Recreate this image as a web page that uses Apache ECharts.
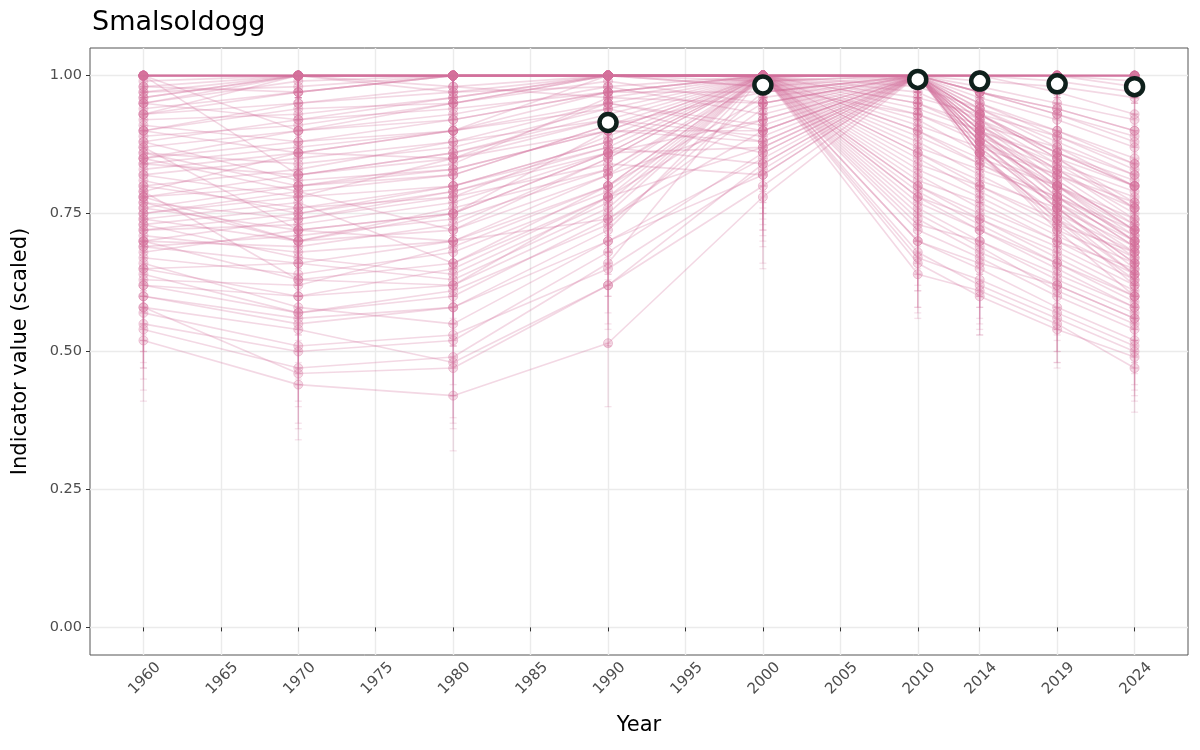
<!DOCTYPE html>
<html>
<head>
<meta charset="utf-8">
<script src="https://cdn.jsdelivr.net/npm/echarts@6/dist/echarts.min.js"></script>
<style>html,body{margin:0;padding:0;background:#fff}#c{width:1200px;height:750px}</style>
</head>
<body>
<div id="c"></div>
<script>
const years = [1960, 1970, 1980, 1990, 2000, 2010, 2014, 2019, 2024];
const xTickValues = [1960, 1965, 1970, 1975, 1980, 1985, 1990, 1995, 2000, 2005, 2010, 2014, 2019, 2024];
const yTickValues = [0, 0.25, 0.5, 0.75, 1];

// Scaled indicator value of each sample line, one array per year
const y1960 = [1,1,1,1,0.98,1,0.97,1,0.95,1, 0.93,0.87,0.79,0.72,0.65,0.84,0.78,0.7,0.6,0.9, 0.75,0.68,0.54,0.52,0.85,0.8,0.73,0.7,0.93,0.95, 0.78,0.62,0.66,0.57,0.88,0.83,1,1,0.79,0.87, 0.93,0.96,0.71,0.75,0.9,0.69,0.82,0.76,0.64,0.58, 0.98,0.92,0.86,0.74,0.89,0.81,0.77,0.63,0.94,0.85,
  0.91,0.76,0.7,0.86,0.99,0.67,0.8,0.62,0.72,0.84, 0.9,0.78,0.55,0.6,0.97,1,1,1,1,0.96, 0.73,0.88,0.65,0.69,0.82,0.74,0.95,0.58,0.85,0.77];
const y1970 = [1,1,1,1,1,1,1,1,0.99,1, 0.97,0.9,0.86,0.75,0.66,0.82,0.7,0.63,0.55,0.95, 0.78,0.72,0.47,0.44,0.88,0.83,0.76,0.74,0.95,1, 0.8,0.6,0.58,0.51,0.92,0.86,0.9,0.82,0.63,0.72, 1,1,0.68,0.79,0.86,0.66,0.78,0.72,0.57,0.54, 0.97,0.93,0.8,0.77,0.91,0.75,0.7,0.62,0.97,0.9,
  0.88,0.8,0.69,0.84,1,0.64,0.76,0.57,0.73,0.87, 0.94,0.82,0.5,0.56,0.98,1,1,1,1,1, 0.67,0.81,0.6,0.71,0.85,0.7,0.92,0.46,0.79,0.74];
const y1980 = [1,1,1,1,1,1,1,1,1,1, 1,0.95,0.9,0.8,0.7,0.85,0.72,0.62,0.58,0.98, 0.85,0.75,0.49,0.42,0.9,0.88,0.8,0.78,0.97,0.98, 0.83,0.62,0.55,0.53,0.94,0.85,0.92,0.86,0.66,0.75, 1,0.97,0.7,0.72,0.9,0.63,0.8,0.7,0.6,0.48, 1,0.96,0.84,0.66,0.95,0.79,0.76,0.69,1,0.93,
  0.92,0.82,0.73,0.87,1,0.68,0.78,0.61,0.77,0.9, 0.95,0.86,0.52,0.58,1,1,1,1,1,1, 0.64,0.83,0.65,0.74,0.88,0.75,0.96,0.47,0.82,0.79];
const y1990 = [1,1,1,1,1,1,1,1,1,1, 1,1,0.97,0.88,0.82,0.92,0.85,0.75,0.72,1, 0.95,0.9,0.66,0.515,0.95,0.92,0.87,0.84,0.98,0.96, 0.9,0.78,0.7,0.65,0.97,0.9,0.97,0.93,0.8,0.86, 1,1,0.8,0.82,1,0.76,0.88,0.74,0.74,0.62, 1,1,0.96,0.78,1,0.86,0.83,0.8,1,0.98,
  0.97,0.91,0.85,0.94,1,0.79,0.89,0.73,0.86,0.94, 0.99,0.92,0.68,0.7,1,1,1,1,1,1, 0.77,0.9,0.78,0.83,0.95,0.86,1,0.62,0.91,0.87];
const y2000 = [1,1,1,1,1,1,1,0.99,1,1, 1,1,1,1,1,1,1,1,1,1, 1,1,1,0.78,0.9,0.86,0.84,0.82,0.93,0.95, 0.88,0.87,0.85,0.83,0.97,0.9,1,1,1,1, 1,1,0.96,0.92,0.98,1,1,0.94,0.9,0.84, 1,1,1,0.95,1,1,0.99,1,1,1,
  1,1,1,1,1,1,1,0.97,0.92,0.88, 0.95,0.89,0.86,0.82,0.98,1,1,1,1,1, 1,1,1,1,0.91,0.87,1,0.8,0.97,1];
const y2010 = [1,1,1,1,1,1,1,1,1,1, 0.92,0.88,0.82,0.75,0.72,0.9,0.68,0.66,0.64,0.95, 0.8,0.78,0.7,1,1,1,1,1,1,1, 1,1,1,1,1,1,0.94,0.86,0.76,0.8, 0.9,0.97,1,1,0.93,0.73,0.85,1,1,1, 1,1,0.96,1,1,0.87,1,0.79,0.98,1,
  0.89,0.83,0.77,0.86,0.95,0.7,0.84,1,1,1, 1,1,1,1,1,1,1,1,1,1, 0.74,0.91,0.67,0.81,1,1,0.93,1,1,0.78];
const y2014 = [1,1,1,1,1,1,1,1,1,0.99, 0.86,0.82,0.76,0.69,0.67,0.85,0.62,0.6,0.61,0.9, 0.74,0.72,0.65,0.93,0.93,0.9,0.88,0.92,0.95,0.94, 0.86,0.85,0.87,0.9,0.97,0.91,0.9,0.8,0.7,0.75, 0.84,0.92,0.88,0.86,0.88,0.7,0.79,0.91,0.9,0.88, 0.96,0.97,0.93,0.89,0.93,0.83,0.87,0.73,0.94,0.98,
  0.84,0.78,0.72,0.81,0.91,0.66,0.8,0.86,0.89,0.91, 0.95,0.92,0.88,0.9,0.97,0.97,1,1,1,1, 0.68,0.87,0.63,0.77,0.94,0.89,0.89,0.86,0.93,0.74];
const y2019 = [1,1,1,1,1,0.99,1,1,1,0.98, 0.8,0.75,0.7,0.61,0.6,0.8,0.56,0.54,0.55,0.84, 0.67,0.65,0.58,0.86,0.85,0.8,0.77,0.82,0.9,0.88, 0.72,0.75,0.76,0.8,0.93,0.83,0.85,0.74,0.63,0.69, 0.77,0.86,0.76,0.74,0.82,0.64,0.72,0.81,0.78,0.8, 0.92,0.94,0.89,0.79,0.86,0.78,0.76,0.66,0.9,0.95,
  0.78,0.71,0.66,0.76,0.87,0.62,0.73,0.73,0.78,0.83, 0.89,0.84,0.77,0.81,0.93,0.94,0.97,1,1,1, 0.62,0.82,0.57,0.7,0.87,0.79,0.83,0.74,0.85,0.68];
const y2024 = [1,1,1,0.99,1,0.97,1,1,1,0.96, 0.74,0.68,0.63,0.55,0.54,0.73,0.5,0.49,0.47,0.79, 0.6,0.58,0.52,0.8,0.77,0.72,0.68,0.73,0.84,0.82, 0.6,0.64,0.66,0.7,0.88,0.74,0.8,0.67,0.57,0.62, 0.7,0.81,0.65,0.62,0.76,0.58,0.66,0.72,0.69,0.71, 0.87,0.9,0.84,0.7,0.8,0.72,0.66,0.6,0.85,0.92,
  0.71,0.64,0.59,0.69,0.82,0.56,0.68,0.63,0.69,0.75, 0.83,0.76,0.67,0.72,0.89,0.9,0.93,1,1,0.98, 0.56,0.77,0.51,0.65,0.8,0.7,0.78,0.64,0.76,0.61];

// Lower end of each sample's error bar, one array per year
const lo1960 = [0.97,0.96,0.98,0.95,0.93,0.97,0.92,0.96,0.9,0.97, 0.87,0.8,0.71,0.63,0.55,0.77,0.7,0.61,0.5,0.84, 0.66,0.58,0.43,0.41,0.78,0.72,0.64,0.6,0.88,0.9, 0.69,0.52,0.57,0.47,0.82,0.75,0.96,0.95,0.7,0.8, 0.87,0.91,0.62,0.67,0.84,0.6,0.74,0.68,0.54,0.48, 0.94,0.86,0.79,0.65,0.83,0.73,0.69,0.53,0.89,0.78,
  0.85,0.67,0.61,0.79,0.95,0.58,0.72,0.52,0.63,0.77, 0.84,0.7,0.45,0.5,0.92,0.96,0.95,0.97,0.96,0.91, 0.64,0.81,0.55,0.6,0.74,0.65,0.9,0.47,0.78,0.68];
const lo1970 = [0.96,0.97,0.95,0.97,0.96,0.94,0.97,0.96,0.94,0.97, 0.92,0.83,0.78,0.66,0.56,0.74,0.6,0.53,0.45,0.89, 0.69,0.62,0.37,0.34,0.81,0.75,0.67,0.65,0.89,0.96, 0.71,0.5,0.48,0.41,0.86,0.78,0.83,0.73,0.53,0.63, 0.95,0.96,0.58,0.7,0.78,0.56,0.69,0.62,0.47,0.44, 0.92,0.87,0.71,0.68,0.85,0.66,0.6,0.52,0.92,0.83,
  0.81,0.71,0.6,0.76,0.96,0.54,0.67,0.47,0.64,0.8, 0.88,0.74,0.4,0.46,0.93,0.96,0.95,0.97,0.96,0.95, 0.57,0.73,0.5,0.62,0.77,0.61,0.86,0.36,0.71,0.65];
const lo1980 = [0.97,0.95,0.96,0.97,0.95,0.96,0.94,0.97,0.95,0.96, 0.95,0.89,0.82,0.71,0.6,0.77,0.62,0.51,0.47,0.93, 0.77,0.65,0.38,0.32,0.83,0.8,0.71,0.69,0.92,0.93, 0.74,0.51,0.44,0.42,0.88,0.77,0.85,0.78,0.56,0.65, 0.95,0.91,0.6,0.62,0.83,0.52,0.71,0.6,0.49,0.37, 0.96,0.9,0.76,0.55,0.89,0.7,0.66,0.59,0.95,0.86,
  0.86,0.74,0.64,0.8,0.96,0.58,0.69,0.51,0.68,0.83, 0.9,0.78,0.42,0.48,0.95,0.96,0.97,0.95,0.96,0.97, 0.54,0.75,0.55,0.65,0.81,0.66,0.91,0.36,0.74,0.7];
const lo1990 = [0.97,0.96,0.98,0.95,0.97,0.96,0.94,0.97,0.96,0.95, 0.95,0.94,0.91,0.8,0.73,0.85,0.77,0.66,0.62,0.95, 0.88,0.82,0.55,0.4,0.88,0.85,0.79,0.75,0.93,0.9, 0.82,0.68,0.6,0.54,0.91,0.82,0.91,0.86,0.71,0.78, 0.96,0.95,0.71,0.73,0.94,0.66,0.8,0.64,0.64,0.51, 0.96,0.95,0.9,0.68,0.94,0.77,0.74,0.7,0.96,0.92,
  0.91,0.83,0.76,0.87,0.95,0.69,0.81,0.63,0.78,0.87, 0.94,0.85,0.57,0.6,0.96,0.95,0.97,0.96,0.97,0.95, 0.67,0.82,0.68,0.74,0.88,0.78,0.95,0.51,0.83,0.79];
const lo2000 = [0.97,0.95,0.96,0.98,0.94,0.97,0.96,0.93,0.95,0.97, 0.95,0.94,0.96,0.93,0.92,0.95,0.91,0.9,0.89,0.96, 0.93,0.92,0.88,0.65,0.8,0.75,0.72,0.7,0.85,0.87, 0.77,0.75,0.73,0.71,0.9,0.8,0.95,0.93,0.9,0.92, 0.95,0.96,0.87,0.82,0.91,0.89,0.93,0.84,0.79,0.72, 0.96,0.97,0.94,0.85,0.95,0.92,0.91,0.9,0.97,0.96,
  0.94,0.93,0.91,0.95,0.96,0.9,0.93,0.88,0.83,0.77, 0.88,0.79,0.74,0.69,0.92,0.96,0.97,0.95,0.96,0.97, 0.9,0.94,0.89,0.92,0.81,0.76,0.95,0.66,0.89,0.93];
const lo2010 = [0.97,0.96,0.98,0.95,0.97,0.96,0.98,0.97,0.95,0.96, 0.85,0.8,0.73,0.66,0.62,0.83,0.58,0.57,0.56,0.89, 0.71,0.69,0.61,0.94,0.95,0.93,0.94,0.92,0.96,0.97, 0.93,0.92,0.94,0.91,0.97,0.95,0.87,0.78,0.67,0.72, 0.83,0.92,0.94,0.93,0.86,0.64,0.77,0.95,0.93,0.92, 0.97,0.96,0.9,0.94,0.96,0.79,0.95,0.7,0.93,0.97,
  0.82,0.75,0.68,0.78,0.9,0.61,0.76,0.93,0.94,0.95, 0.96,0.94,0.92,0.91,0.97,0.96,0.97,0.96,0.98,0.96, 0.65,0.84,0.58,0.73,0.95,0.93,0.87,0.91,0.94,0.7];
const lo2014 = [0.96,0.97,0.95,0.97,0.96,0.98,0.95,0.97,0.96,0.94, 0.79,0.74,0.68,0.6,0.58,0.78,0.54,0.53,0.53,0.84, 0.66,0.64,0.56,0.86,0.86,0.83,0.8,0.85,0.89,0.88, 0.78,0.77,0.79,0.83,0.92,0.84,0.84,0.72,0.61,0.67, 0.77,0.86,0.8,0.78,0.81,0.61,0.71,0.84,0.83,0.8, 0.91,0.92,0.87,0.81,0.87,0.75,0.8,0.64,0.88,0.93,
  0.77,0.7,0.64,0.74,0.85,0.58,0.72,0.78,0.82,0.84, 0.9,0.85,0.8,0.83,0.92,0.92,0.96,0.97,0.95,0.96, 0.6,0.8,0.55,0.69,0.88,0.82,0.83,0.77,0.87,0.66];
const lo2019 = [0.97,0.95,0.96,0.98,0.96,0.94,0.97,0.95,0.96,0.93, 0.73,0.67,0.62,0.53,0.52,0.73,0.48,0.47,0.48,0.78, 0.59,0.57,0.5,0.79,0.78,0.72,0.69,0.75,0.84,0.82, 0.64,0.67,0.68,0.73,0.88,0.76,0.79,0.66,0.55,0.61, 0.69,0.8,0.68,0.66,0.75,0.56,0.64,0.73,0.7,0.72, 0.86,0.89,0.83,0.71,0.79,0.7,0.68,0.58,0.84,0.9,
  0.71,0.63,0.58,0.69,0.81,0.54,0.65,0.65,0.7,0.76, 0.83,0.77,0.69,0.74,0.88,0.89,0.93,0.97,0.96,0.95, 0.54,0.75,0.5,0.62,0.8,0.71,0.77,0.66,0.78,0.6];
const lo2024 = [0.96,0.97,0.95,0.93,0.96,0.91,0.97,0.95,0.96,0.9, 0.66,0.6,0.55,0.47,0.46,0.66,0.42,0.41,0.39,0.72, 0.52,0.5,0.44,0.72,0.69,0.64,0.6,0.65,0.77,0.75, 0.52,0.56,0.58,0.62,0.82,0.66,0.73,0.59,0.49,0.54, 0.62,0.74,0.57,0.54,0.69,0.5,0.58,0.64,0.61,0.63, 0.8,0.84,0.77,0.62,0.72,0.64,0.58,0.52,0.78,0.86,
  0.63,0.56,0.51,0.61,0.75,0.48,0.6,0.55,0.61,0.67, 0.76,0.68,0.59,0.64,0.83,0.84,0.87,0.96,0.95,0.93, 0.48,0.7,0.43,0.57,0.73,0.62,0.71,0.56,0.68,0.53];

// Summary (median) indicator values
const medYears = [1990, 2000, 2010, 2014, 2019, 2024];
const medValues = [0.915, 0.983, 0.993, 0.99, 0.985, 0.98];

const valueCols = [y1960, y1970, y1980, y1990, y2000, y2010, y2014, y2019, y2024];
const lowCols = [lo1960, lo1970, lo1980, lo1990, lo2000, lo2010, lo2014, lo2019, lo2024];

const PINK = '#d4709b';
const series = [];

// error bars
const errData = [];
years.forEach((yr, j) => {
  valueCols[j].forEach((v, i) => errData.push([yr, lowCols[j][i], v]));
});
series.push({
  type: 'custom',
  silent: true,
  z: 1,
  data: errData,
  encode: { x: 0, y: [1, 2] },
  renderItem: function (params, api) {
    const x = api.value(0);
    const p1 = api.coord([x, api.value(1)]);
    const p2 = api.coord([x, api.value(2)]);
    const w = 3.5;
    const st = { stroke: 'rgba(212,112,155,0.2)', lineWidth: 1.3, fill: null };
    return {
      type: 'group',
      children: [
        { type: 'line', shape: { x1: p1[0], y1: p1[1], x2: p2[0], y2: p2[1] }, style: st },
        { type: 'line', shape: { x1: p1[0] - w, y1: p1[1], x2: p1[0] + w, y2: p1[1] }, style: st },
        { type: 'line', shape: { x1: p2[0] - w, y1: p2[1], x2: p2[0] + w, y2: p2[1] }, style: st }
      ]
    };
  }
});

const nLines = y1960.length;
for (let i = 0; i < nLines; i++) {
  series.push({
    type: 'line',
    silent: true,
    z: 2,
    data: years.map((yr, j) => [yr, valueCols[j][i]]),
    symbol: 'circle',
    symbolSize: 9,
    showSymbol: true,
    lineStyle: { color: PINK, width: 1.6, opacity: 0.27 },
    itemStyle: { color: 'rgba(212,112,155,0.24)', borderColor: 'rgba(212,112,155,0.36)', borderWidth: 1 }
  });
}

series.push({
  type: 'scatter',
  silent: true,
  z: 5,
  data: medYears.map((yr, k) => [yr, medValues[k]]),
  symbol: 'circle',
  symbolSize: 17,
  itemStyle: { color: '#ffffff', borderColor: '#0f201c', borderWidth: 4.5, opacity: 1 }
});

const chart = echarts.init(document.getElementById('c'), null, { renderer: 'canvas' });
chart.setOption({
  animation: false,
  backgroundColor: '#ffffff',
  textStyle: { fontFamily: 'DejaVu Sans' },
  title: {
    text: 'Smalsoldogg',
    left: 87,
    top: 4,
    textStyle: { fontFamily: 'DejaVu Sans', fontSize: 27, fontWeight: 'normal', color: '#000' }
  },
  grid: {
    left: 90, right: 12, top: 48, bottom: 95,
    show: true, borderColor: '#555', borderWidth: 1, backgroundColor: 'transparent'
  },
  xAxis: {
    type: 'value',
    min: 1956.55,
    max: 2027.45,
    name: 'Year',
    nameLocation: 'middle',
    nameGap: 60,
    nameTextStyle: { fontFamily: 'DejaVu Sans', fontSize: 21, color: '#000' },
    axisLine: { show: false },
    axisTick: { show: true, length: 4, lineStyle: { color: '#333', width: 1 }, customValues: xTickValues },
    axisLabel: {
      customValues: xTickValues,
      rotate: 45,
      align: 'center',
      verticalAlign: 'middle',
      margin: 25,
      padding: [0, 0, 0, 4],
      fontFamily: 'DejaVu Sans',
      fontSize: 15,
      color: '#4d4d4d',
      formatter: v => String(v)
    },
    splitLine: { show: true, lineStyle: { color: '#ebebeb', width: 1.4 } }
  },
  yAxis: {
    type: 'value',
    min: -0.05,
    max: 1.05,
    name: 'Indicator value (scaled)',
    nameLocation: 'middle',
    nameGap: 59,
    nameTextStyle: { fontFamily: 'DejaVu Sans', fontSize: 21, color: '#000' },
    axisLine: { show: false },
    axisTick: { show: true, length: 4, lineStyle: { color: '#333', width: 1 }, customValues: yTickValues },
    axisLabel: {
      customValues: yTickValues,
      margin: 8,
      fontFamily: 'DejaVu Sans',
      fontSize: 14.5,
      color: '#4d4d4d',
      formatter: v => v.toFixed(2)
    },
    splitLine: { show: true, lineStyle: { color: '#ebebeb', width: 1.4 } }
  },
  series: series
});
</script>
</body>
</html>
